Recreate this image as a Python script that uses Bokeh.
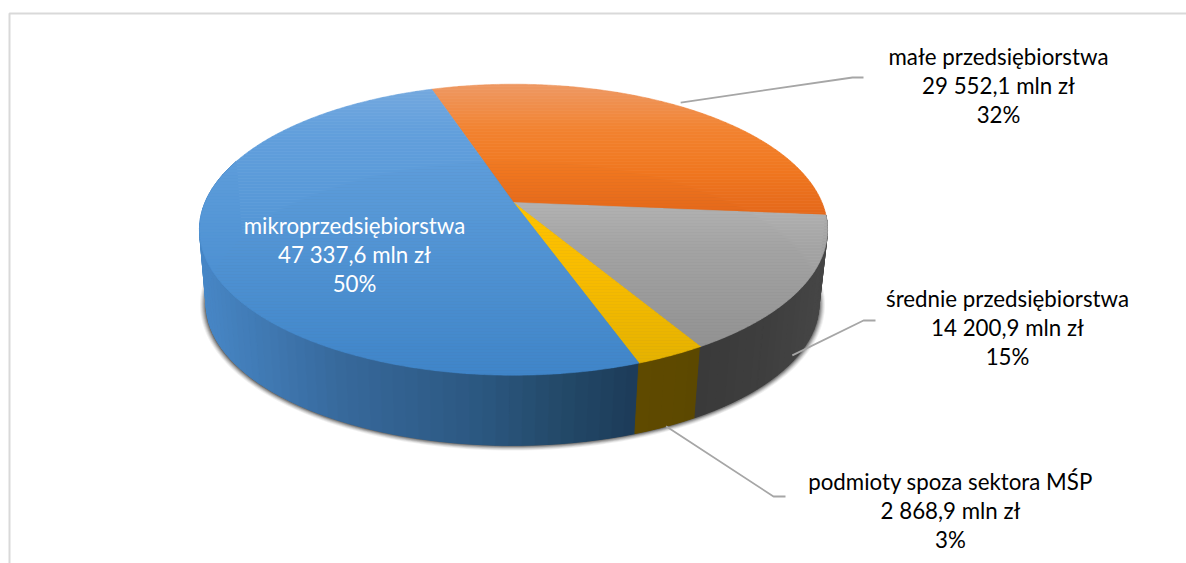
import math
import numpy as np
from bokeh.plotting import figure
from bokeh.models import Range1d, ColumnDataSource
from bokeh.core.properties import value
from bokeh.embed import file_html
from bokeh.resources import INLINE

categories = ["małe przedsiębiorstwa", "średnie przedsiębiorstwa", "podmioty spoza sektora MŚP", "mikroprzedsiębiorstwa"]
amounts = [29552.1, 14200.9, 2868.9, 47337.6]
percents = [32, 15, 3, 50]
first_slice_angle = -18.2

# vertical gradients of the top faces (y pixel, colour)
top_grad = [
    [(87, "#ee9760"), (130, "#f2822f"), (170, "#f0771f"), (214, "#e4681a")],
    [(202, "#b2b2b2"), (250, "#a3a3a3"), (345, "#929292")],
    [(202, "#ffc400"), (280, "#f7bb00"), (362, "#e5b200")],
    [(85, "#75a9df"), (130, "#629fdc"), (200, "#5899d8"), (375, "#3f85c9")],
]
# horizontal gradients of the side walls (x pixel, colour)
side_grad = [
    None,
    [(696, "#3a3a3a"), (760, "#3e3e3e"), (825, "#474747")],
    [(636, "#5f4a00"), (699, "#5c4800")],
    [(200, "#4888c8"), (340, "#37699c"), (480, "#2b5780"), (560, "#234968"), (638, "#1c3a58")],
]

# projection of the tilted disc
CX, K = 513.0, 0.187
TOP = dict(cx=CX, cy=202.0, R=308.5, S=140.4)
BOT = dict(cx=CX - 1, cy=277.0, R=301.0, S=136.5)


def proj(phi_deg, disc):
    a = np.radians(phi_deg)
    u, v = np.sin(a), np.cos(a)
    w = 1 + K * v
    return disc["cx"] + disc["R"] * u / w, disc["cy"] - disc["S"] * v / w


def hex2rgb(h):
    return np.array([int(h[i:i + 2], 16) for i in (1, 3, 5)], float)


def grad(stops, t):
    xs = [s[0] for s in stops]
    cs = np.array([hex2rgb(s[1]) for s in stops])
    rgb = [np.interp(t, xs, cs[:, i]) for i in range(3)]
    return "#%02x%02x%02x" % tuple(int(round(c)) for c in rgb)


def clip_band(poly, y0, y1):
    def clip(pts, inside, cross):
        out = []
        for i, p in enumerate(pts):
            q = pts[(i + 1) % len(pts)]
            if inside(p):
                out.append(p)
                if not inside(q):
                    out.append(cross(p, q))
            elif inside(q):
                out.append(cross(p, q))
        return out

    def at(yc):
        def f(p, q):
            t = (yc - p[1]) / (q[1] - p[1])
            return (p[0] + t * (q[0] - p[0]), yc)
        return f

    r = clip(poly, lambda p: p[1] >= y0, at(y0))
    if r:
        r = clip(r, lambda p: p[1] <= y1, at(y1))
    return r


total = sum(amounts)
spans = [a / total * 360 for a in amounts]
starts = [first_slice_angle + sum(spans[:i]) for i in range(len(spans))]
ends = [s + d for s, d in zip(starts, spans)]

p = figure(width=1186, height=563, x_range=Range1d(0, 1186), y_range=Range1d(563, 0),
           output_backend="svg", toolbar_location=None, min_border=0,
           background_fill_color="white", border_fill_color="white", outline_line_color=None)
p.axis.visible = False
p.grid.visible = False

# frame
p.line([9, 9, 1186], [563, 13, 13], line_color="#d9d9d9", line_width=2)

# soft shadow of the lower rim
phi_all = np.linspace(0, 360, 241)
for grow, alpha in [(6, 0.06), (5, 0.08), (4, 0.11), (3, 0.14), (2, 0.18), (1, 0.25)]:
    d = dict(BOT)
    d["R"] += grow
    d["S"] += grow * 0.7
    x, y = proj(phi_all, d)
    p.patch(x, y, fill_color="#000000", fill_alpha=alpha, line_color=None)

# side walls
sx, sy, sc = [], [], []
for i in (3, 2, 1):
    if side_grad[i] is None:
        continue
    a0, a1 = starts[i], min(ends[i], 288.0)
    n = max(2, int((a1 - a0) * 0.5))
    edges = np.linspace(a0, a1, n + 1)
    for e0, e1 in zip(edges[:-1], edges[1:]):
        xt0, yt0 = proj(e0, TOP)
        xt1, yt1 = proj(e1, TOP)
        xb0, yb0 = proj(e0, BOT)
        xb1, yb1 = proj(e1, BOT)
        sx.append([float(v) for v in (xt0, xt1, xb1, xb0)])
        sy.append([float(v) for v in (yt0, yt1, yb1, yb0)])
        sc.append(grad(side_grad[i], float((xb0 + xb1) / 2)))
p.patches(xs="x", ys="y", fill_color="c", line_color="c", line_width=1.0,
          source=ColumnDataSource(dict(x=sx, y=sy, c=sc)))

# top faces, band by band
tx, ty, tc = [], [], []
for i in range(4):
    arc = np.linspace(starts[i], ends[i], int(spans[i] * 2) + 2)
    ax, ay = proj(arc, TOP)
    poly = [(TOP["cx"], TOP["cy"])] + [(float(a), float(b)) for a, b in zip(ax, ay)]
    ymin, ymax = min(q[1] for q in poly), max(q[1] for q in poly)
    y = math.floor(ymin)
    while y < ymax:
        band = clip_band(poly, y, y + 3)
        if len(band) >= 3:
            tx.append([q[0] for q in band])
            ty.append([q[1] for q in band])
            tc.append(grad(top_grad[i], y + 1.5))
        y += 3
p.patches(xs="x", ys="y", fill_color="c", line_color="c", line_width=0.6,
          source=ColumnDataSource(dict(x=tx, y=ty, c=tc)))

# leader lines
def mid(i):
    return (starts[i] + ends[i]) / 2


leaders = []
xa, ya = proj(mid(0), TOP)
leaders.append(([float(xa), 852, 863], [float(ya) - 4, 77, 77]))
xa, ya = proj(mid(1), BOT)
leaders.append(([float(xa) - 3, 863, 875], [float(ya) - 3, 320, 320]))
xa, ya = proj(mid(2), BOT)
leaders.append(([float(xa), 773, 785], [float(ya), 496, 496]))
p.multi_line([l[0] for l in leaders], [l[1] for l in leaders], line_color="#a6a6a6", line_width=1.8)


def money(v):
    whole, frac = f"{v:.1f}".split(".")
    return f"{int(whole):,}".replace(",", " ") + "," + frac + " mln zł"


# labels
label_x = [998, 1007, 950, 354]
label_y = [56, 298, 481, 225]
label_color = ["#000000", "#000000", "#000000", "#ffffff"]
tx_, ty_, ts_, tcol = [], [], [], []
for i in range(4):
    for j, s in enumerate([categories[i], money(amounts[i]), f"{percents[i]}%"]):
        tx_.append(label_x[i])
        ty_.append(label_y[i] + j * 29)
        ts_.append(s)
        tcol.append(label_color[i])
p.text(x="x", y="y", text="t", text_color="c", source=ColumnDataSource(dict(x=tx_, y=ty_, t=ts_, c=tcol)),
       text_font=value("Lato"), text_font_size="22.3px", text_align="center", text_baseline="middle")

open("out.html", "w").write(file_html(p, INLINE))
